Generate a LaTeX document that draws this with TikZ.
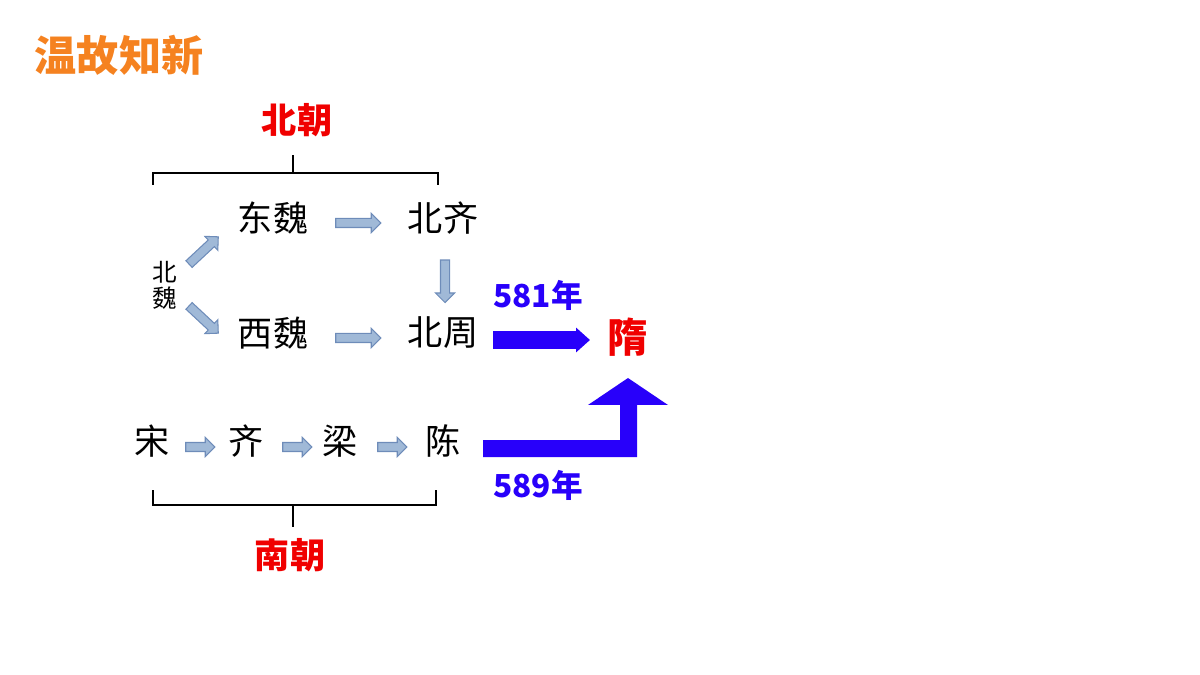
\documentclass[tikz,border=0pt]{standalone}
\usepackage{fontspec}
\setmainfont{Noto Sans CJK SC}
\newfontfamily\cjk{Noto Sans CJK SC}
\usetikzlibrary{shapes.arrows,arrows.meta}
\definecolor{titleorange}{RGB}{245,130,32}
\definecolor{dynred}{RGB}{240,0,0}
\definecolor{yearblue}{RGB}{40,0,250}
\definecolor{arrowfill}{RGB}{160,185,215}
\definecolor{arrowline}{RGB}{110,140,185}
\begin{document}
\begin{tikzpicture}[x=0.02cm,y=-0.02cm]
\tikzset{
  dyn/.style={font=\cjk\fontsize{20}{22}\selectfont, inner sep=0pt},
  label/.style={font=\cjk\bfseries\fontsize{20}{22}\selectfont, text=dynred, inner sep=0pt},
  year/.style={font=\cjk\bfseries\fontsize{18}{20}\selectfont, text=yearblue, inner sep=0pt},
  lightarrow/.style={single arrow, draw=arrowline, fill=arrowfill, line width=0.6pt,
    minimum height=#1, inner xsep=0pt, inner ysep=0.08cm, single arrow head extend=0.1cm},
  bracket/.style={line width=0.6pt}
}
\useasboundingbox (0,0) rectangle (1200,675);

% 标题
\node[font=\cjk\bfseries\fontsize{24}{28}\selectfont, text=titleorange] (title) at (119,55) {温故知新};

% 北朝
\node[label] (beichao) at (297,120) {北朝};
\draw[bracket] (153,185) -- (153,173) -- (438,173) -- (438,185);
\draw[bracket] (293,173) -- (293,155);

\node[dyn] (dongwei) at (273,218) {东魏};
\node[dyn] (beiqi) at (443,218) {北齐};
\node[dyn] (xiwei) at (273,333) {西魏};
\node[dyn] (beizhou) at (443,333) {北周};
\node[dyn, font=\cjk\fontsize{14}{15}\selectfont, align=center] (beiwei) at (165,285) {北\\魏};

\node[lightarrow=0.9cm] (a1) at (356,223) {};
\node[lightarrow=0.9cm] (a2) at (356,338) {};
\node[lightarrow=0.85cm, rotate=-90] (a3) at (445,279) {};
\node[lightarrow=0.8cm, rotate=43] (a4) at (202,252) {};
\node[lightarrow=0.8cm, rotate=-43] (a5) at (202,318) {};

% 隋
\node[year] (y581) at (538,295) {581年};
\node[font=\cjk\bfseries\fontsize{23}{26}\selectfont, text=dynred] (sui) at (628,337) {隋};
\draw[yearblue, line width=10pt, -{Triangle[length=0.28cm,width=0.48cm]}] (493,340) -- (590,340);

% 南朝
\node[dyn] (song) at (152,441) {宋};
\node[dyn] (qi) at (246,441) {齐};
\node[dyn] (liang) at (340,441) {梁};
\node[dyn] (chen) at (443,441) {陈};
\node[lightarrow=0.58cm] (b1) at (198,447) {};
\node[lightarrow=0.58cm] (b2) at (295,447) {};
\node[lightarrow=0.58cm] (b3) at (390,447) {};

\fill[yearblue] (483,440) -- (620,440) -- (620,405) -- (588,405) -- (628,378)
  -- (668,405) -- (637,405) -- (637,457) -- (483,457) -- cycle;
\node[year] (y589) at (538,485) {589年};

\draw[bracket] (153,490) -- (153,505) -- (436,505) -- (436,490);
\draw[bracket] (293,505) -- (293,527);
\node[label] (nanchao) at (290,555) {南朝};
\end{tikzpicture}
\end{document}
